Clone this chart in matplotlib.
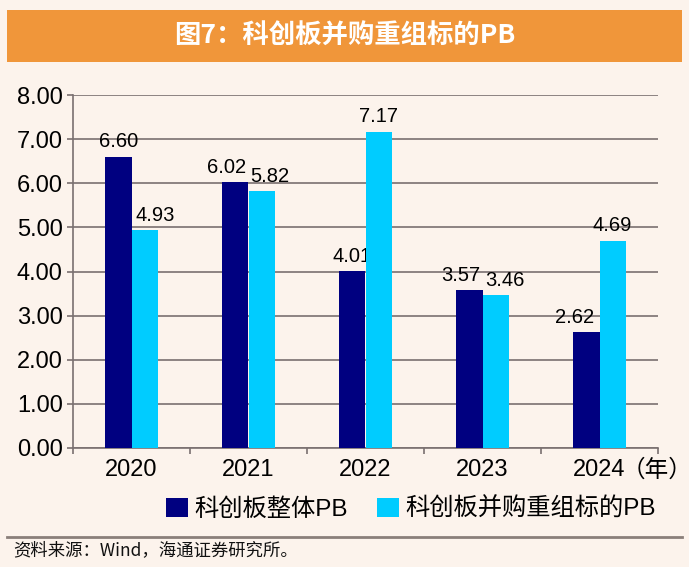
import matplotlib
matplotlib.use("Agg")
from matplotlib import pyplot as plt
from matplotlib import patches
from matplotlib.lines import Line2D
import numpy as np

plt.rcParams['font.family'] = ['Liberation Sans', 'Noto Sans CJK SC', 'DejaVu Sans']

years = ['2020', '2021', '2022', '2023', '2024']
pb_all = [6.60, 6.02, 4.01, 3.57, 2.62]
pb_ma = [4.93, 5.82, 7.17, 3.46, 4.69]
series_names = ['科创板整体PB', '科创板并购重组标的PB']

title = '图7：科创板并购重组标的PB'
source = '资料来源：Wind，海通证券研究所。'

bg = '#FCF3EC'
dark = '#000080'
light = '#00CCFF'
grid_c = '#7A7070'

fig = plt.figure(figsize=(6.89, 5.67), dpi=100, facecolor=bg)

# title banner
fig.patches.append(patches.Rectangle((7/689, 1 - 62/567), 675/689, 52/567,
                                     transform=fig.transFigure, facecolor='#F0963A',
                                     edgecolor='none', zorder=0))
fig.text(0.5, 1 - 36/567, title, color='white', fontsize=19, fontweight='bold',
         family=['Noto Sans CJK SC'], ha='center', va='center')

ax = fig.add_axes([73/689, 1 - 448/567, 585/689, 353/567])
ax.set_facecolor(bg)

x = np.arange(len(years))
w = 0.225
ax.bar(x - w/2, pb_all, w, color=dark, zorder=3)
ax.bar(x + w/2, pb_ma, w, color=light, zorder=3)

# value labels, nudged sideways like excel does when neighbours collide
nudge_dark = [0, -9, 0, -9, -12]
nudge_light = [11, 8, 0, 9, 0]
for xs, vals, nudges in [(x - w/2, pb_all, nudge_dark), (x + w/2, pb_ma, nudge_light)]:
    for xi, v, dx in zip(xs, vals, nudges):
        ax.annotate('%.2f' % v, xy=(xi, v), xytext=(dx * 0.72, 4),
                    textcoords='offset points', ha='center', va='bottom',
                    fontsize=14.5, zorder=2)

ax.set_xlim(-0.5, len(years) - 0.5)
ax.set_ylim(0, 8)
ax.set_yticks(np.arange(0, 8.01, 1))
ax.set_yticklabels(['%.2f' % v for v in np.arange(0, 8.01, 1)], fontsize=17)
ax.yaxis.grid(True, color=grid_c, linewidth=1.2, zorder=1)
ax.set_axisbelow(True)

ax.set_xticks(np.arange(-0.5, len(years), 1))
ax.set_xticklabels([])
ax.set_xticks(x, minor=True)
ax.set_xticklabels(years, minor=True, fontsize=17)
ax.tick_params(axis='x', which='minor', length=0, pad=7.8)
ax.tick_params(axis='x', which='major', length=4.3, color=grid_c, width=1.2)
ax.tick_params(axis='y', length=4.3, color=grid_c, width=1.2, pad=3)

ax.annotate('（年）', xy=(4.19, 0), xycoords=('data', 'axes fraction'),
            xytext=(0, -7.8), textcoords='offset points', ha='left', va='top',
            fontsize=17, annotation_clip=False)

for s in ['top', 'right']:
    ax.spines[s].set_visible(False)
for s in ['left', 'bottom']:
    ax.spines[s].set_color(grid_c)
    ax.spines[s].set_linewidth(1.2)

handles = [patches.Patch(facecolor=dark), patches.Patch(facecolor=light)]
fig.legend(handles, series_names, loc='center', bbox_to_anchor=(0.596, 0.102),
           ncol=2, frameon=False, fontsize=17.5, handlelength=0.92, handleheight=0.8,
           handletextpad=0.24, columnspacing=1.2, borderaxespad=0)

fig.lines.append(Line2D([7/689, 682/689], [1 - 537/567] * 2, transform=fig.transFigure,
                        color='#8A7F7A', linewidth=2))
fig.text(13/689, 1 - 550/567, source, fontsize=12.5, family=['Noto Sans CJK SC'],
         ha='left', va='center', color='#111111')

fig.savefig('out.png', dpi=100, facecolor=bg)
